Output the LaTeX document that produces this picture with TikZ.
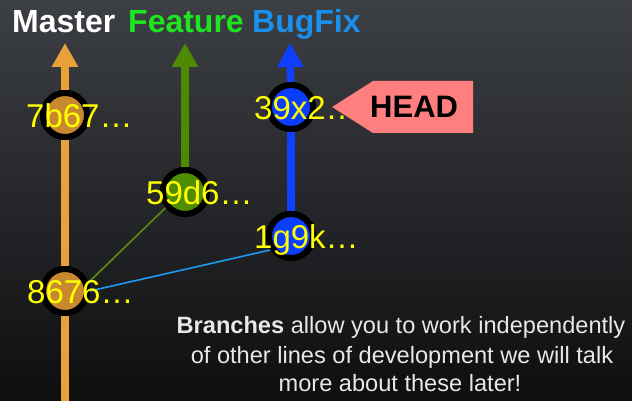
\documentclass[tikz,border=0pt]{standalone}
\usepackage{fontspec}
\setmainfont{Liberation Sans}
\usetikzlibrary{arrows.meta}
\definecolor{bgtop}{HTML}{3C3F44}
\definecolor{bgbot}{HTML}{0E0E0F}
\definecolor{morange}{HTML}{E9A23A}
\definecolor{mfill}{HTML}{C8882E}
\definecolor{fgreen}{HTML}{4E8A00}
\definecolor{ffill}{HTML}{4F8C00}
\definecolor{bblue}{HTML}{1040FF}
\definecolor{bfill}{HTML}{0B3DFF}
\definecolor{thingreen}{HTML}{5A8C10}
\definecolor{thinblue}{HTML}{1E9BF0}
\definecolor{ftitle}{HTML}{1EE61E}
\definecolor{btitle}{HTML}{1A90EE}
\definecolor{headpink}{HTML}{FF7F7F}
\definecolor{lblyellow}{HTML}{FFFF00}
\definecolor{bodytext}{HTML}{E8E8E8}
\tikzset{
  commit/.style={circle, draw=black, line width=6pt, minimum size=44pt, inner sep=0pt},
  lbl/.style={anchor=base west, inner sep=0pt, text=lblyellow, font=\fontsize{33}{38}\selectfont},
  title/.style={anchor=base west, inner sep=0pt, font=\fontsize{32}{38}\selectfont\bfseries},
  shaft/.style={line width=7.5pt},
  tip/.style={-{Triangle[length=24pt,width=25pt]}},
  thinline/.style={line width=1.6pt},
  desc/.style={anchor=base, inner sep=0pt, text=bodytext, font=\fontsize{23.6}{29}\selectfont},
}
\begin{document}
\begin{tikzpicture}[x=1pt,y=-1pt]
\shade[top color=bgtop, bottom color=bgbot] (0,0) rectangle (632,401);
\useasboundingbox (0,0) rectangle (632,401);

% commits (placed first so shafts can refer to them)
\node[commit, fill=mfill] (c7b67) at (65,115) {};
\node[commit, fill=mfill] (c8676) at (65,291) {};
\node[commit, fill=ffill] (c59d6) at (185,192) {};
\node[commit, fill=bfill] (c39x2) at (291,107) {};
\node[commit, fill=bfill] (c1g9k) at (291,236) {};

\coordinate (mtip) at (65,43);
\coordinate (ftip) at (185,43);
\coordinate (btip) at (290,43);
\coordinate (mbot) at (65,410);

% shafts
\draw[shaft, morange, tip] (c7b67) -- (mtip);
\draw[shaft, morange] (c7b67) -- (c8676);
\draw[shaft, morange] (c8676) -- (mbot);
\draw[shaft, fgreen, tip] (c59d6) -- (ftip);
\draw[shaft, bblue, tip] (c39x2) -- (btip);
\draw[shaft, bblue] (c39x2) -- (c1g9k);

% redraw commits on top of shafts
\node[commit, fill=mfill] (d7b67) at (c7b67) {};
\node[commit, fill=mfill] (d8676) at (c8676) {};
\node[commit, fill=ffill] (d59d6) at (c59d6) {};
\node[commit, fill=bfill] (d39x2) at (c39x2) {};
\node[commit, fill=bfill] (d1g9k) at (c1g9k) {};

% merge lines
\draw[thinline, thingreen] (c8676.20) -- (c59d6.219);
\draw[thinline, thinblue] (c8676.0) -- (c1g9k.214);

% labels
\node[lbl] (l7b67) at (26,127.5) {7b67…};
\node[lbl] (l8676) at (27,303.5) {8676…};
\node[lbl] (l59d6) at (146,204.5) {59d6…};
\node[lbl] (l39x2) at (254,119.5) {39x2…};
\node[lbl] (l1g9k) at (254,248.5) {1g9k…};

% titles
\node[title, text=white] (tmaster) at (12,33) {Master};
\node[title, text=ftitle] (tfeature) at (128,33) {Feature};
\node[title, text=btitle] (tbugfix) at (252,33) {BugFix};

% HEAD marker
\fill[headpink] (332,107) -- (373,81) -- (473,81) -- (473,133) -- (373,133) -- cycle;
\node[anchor=base west, inner sep=0pt, font=\fontsize{31}{36}\selectfont\bfseries, text=black] (head) at (370,118) {HEAD};

% description
\node[desc] (desc1) at (401,333) {\textbf{Branches} allow you to work independently};
\node[desc] (desc2) at (402,363) {of other lines of development we will talk};
\node[desc] (desc3) at (400,391) {more about these later!};
\end{tikzpicture}
\end{document}
